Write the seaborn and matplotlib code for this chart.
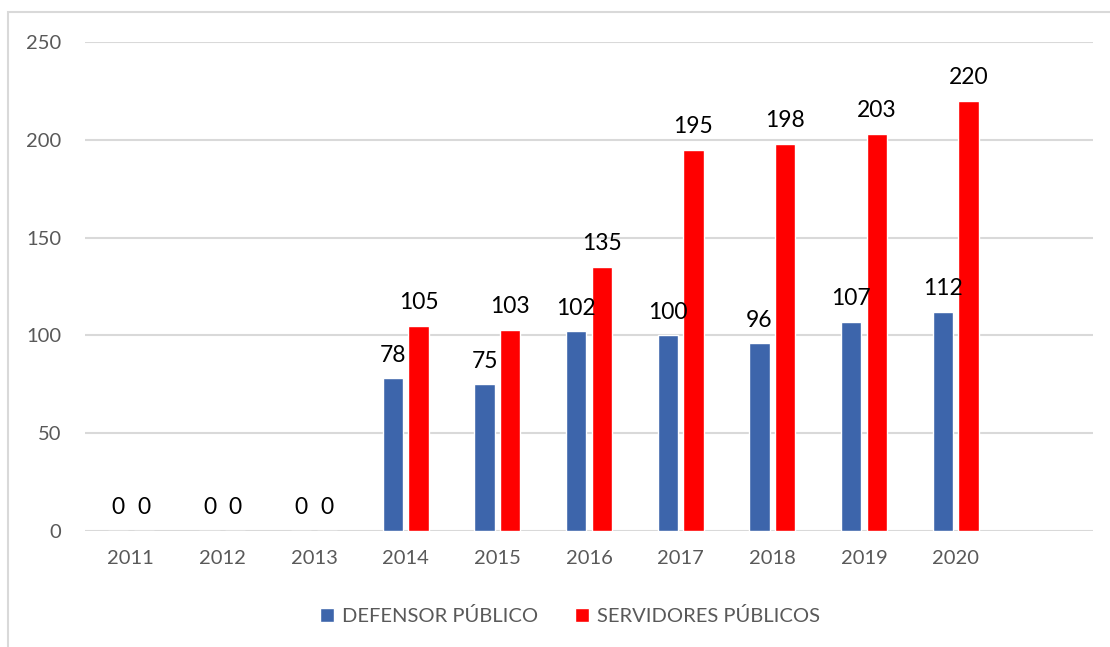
#defensores vs servidores públicos por año
import seaborn as sns
import numpy as np
import pandas as pd
import matplotlib
import matplotlib.pyplot as plt
from matplotlib.patches import Rectangle

matplotlib.use("Agg")

years = ["2011", "2012", "2013", "2014", "2015", "2016", "2017", "2018", "2019", "2020"]
defensor = [0, 0, 0, 78, 75, 102, 100, 96, 107, 112]
servidores = [0, 0, 0, 105, 103, 135, 195, 198, 203, 220]
series_names = ["DEFENSOR PÚBLICO", "SERVIDORES PÚBLICOS"]
y_ticks = [0, 50, 100, 150, 200, 250]

df = pd.DataFrame({
    "year": years * 2,
    "value": defensor + servidores,
    "serie": [series_names[0]] * len(years) + [series_names[1]] * len(years),
})

sns.set_theme(style="white")
plt.rcParams["font.family"] = ["Lato", "DejaVu Sans"]

fig = plt.figure(figsize=(11.1, 6.47), dpi=100)
ax = fig.add_axes([85 / 1110, 116 / 647, (1093 - 85) / 1110, (531 - 42) / 647])

sns.barplot(data=df, x="year", y="value", hue="serie", ax=ax,
            palette=["#3D65AB", "#FF0000"], width=0.56, gap=0.21,
            saturation=1, legend=True)

for cont in ax.containers:
    ax.bar_label(cont, fmt="%d", padding=9, fontsize=16.5, color="black")

ax.set_ylim(0, 250)
ax.set_xlim(-0.5, 10.5)
ax.set_yticks(y_ticks)
ax.yaxis.grid(True, color="#D9D9D9", linewidth=1.5)
ax.set_axisbelow(True)
for s in ax.spines.values():
    s.set_visible(False)
ax.tick_params(axis="both", length=0, labelsize=14.5, labelcolor="#595959")
ax.tick_params(axis="y", pad=17)
ax.tick_params(axis="x", pad=14)
ax.set_xlabel("")
ax.set_ylabel("")

handles, labels = ax.get_legend_handles_labels()
ax.legend_.remove()
fig.legend(handles, labels, loc="center", bbox_to_anchor=(570 / 1110, 1 - 616 / 647),
           ncol=2, frameon=False, fontsize=14.5, handlelength=0.7, handleheight=0.7,
           handletextpad=0.4, columnspacing=1.8, labelcolor="#595959")

fig.patches.append(Rectangle((8 / 1110, -0.1), 1.2, 1.1 - 12 / 647,
                             transform=fig.transFigure, fill=False,
                             edgecolor="#D9D9D9", linewidth=1.5))

fig.savefig("out.png", dpi=100)
